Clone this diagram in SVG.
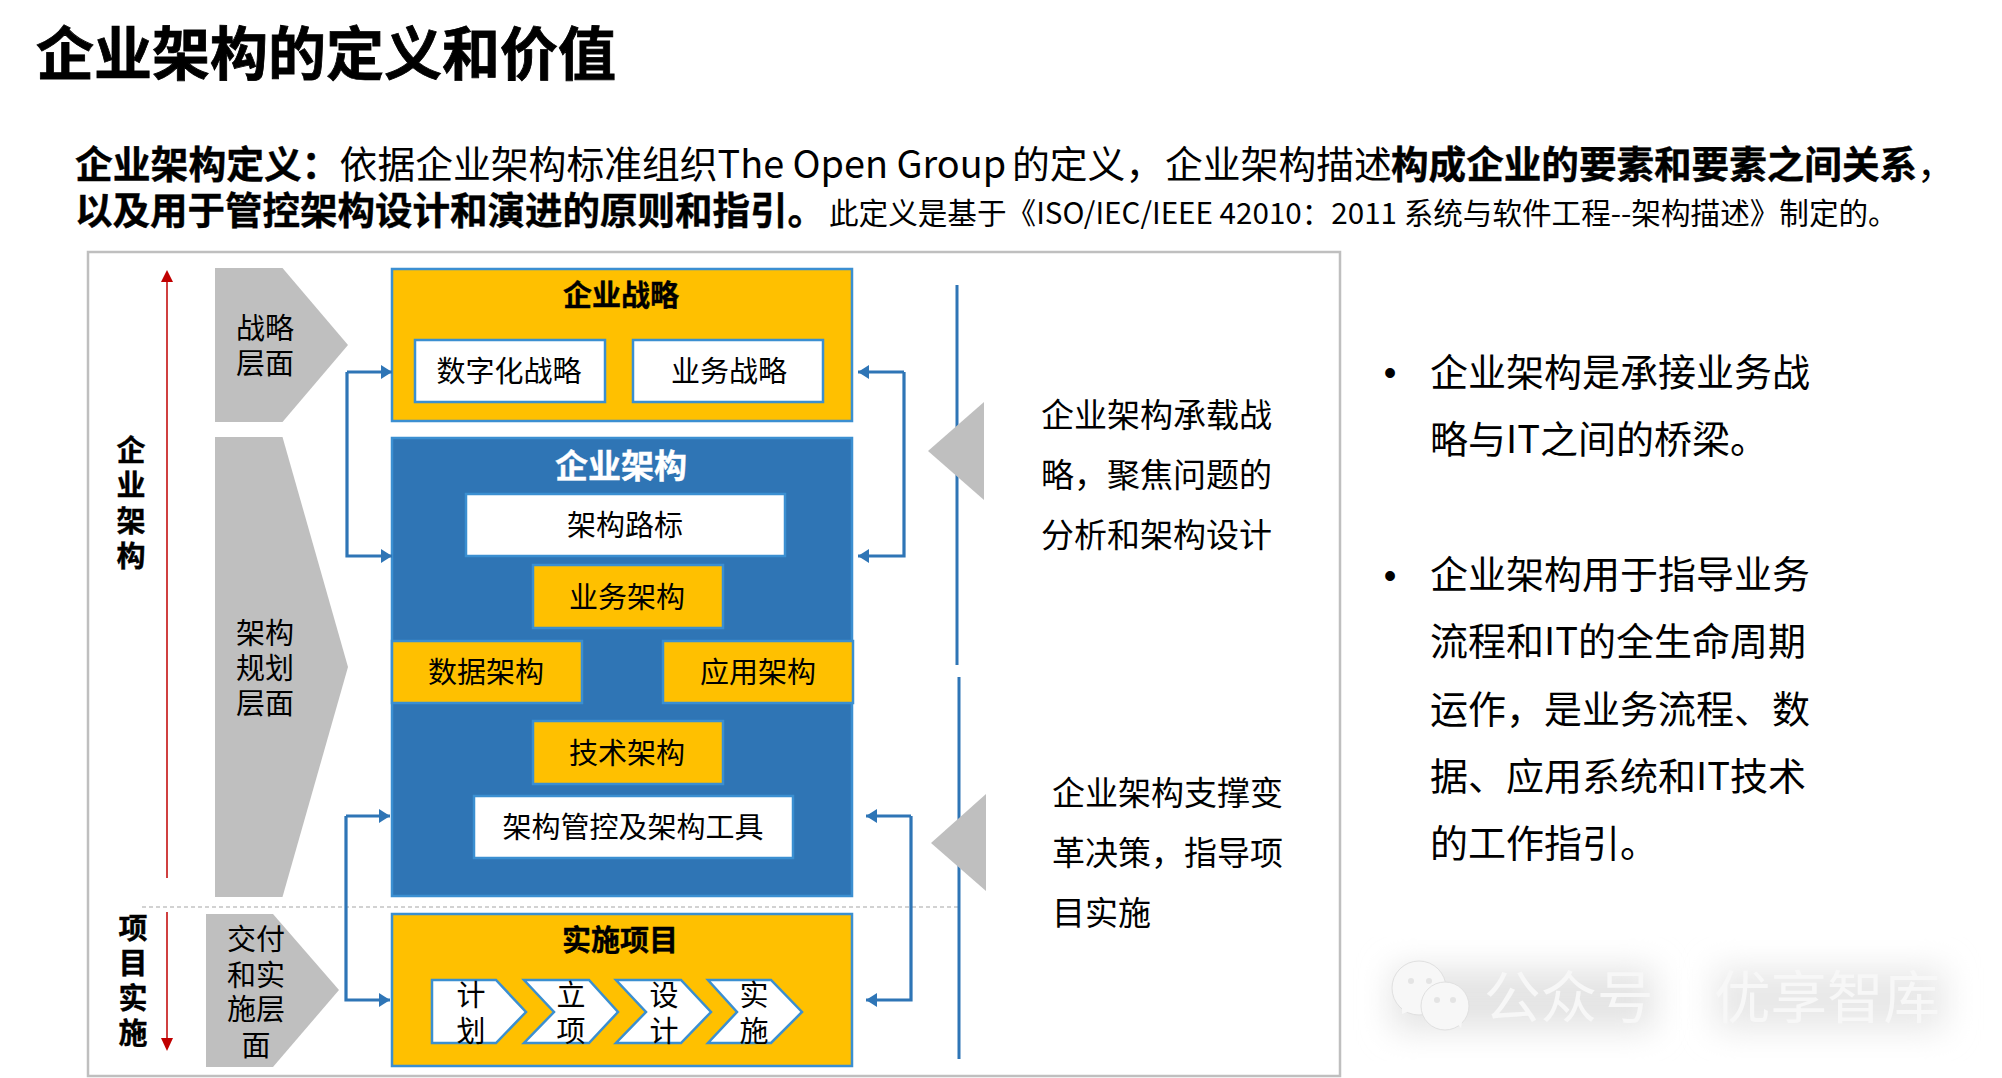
<svg xmlns="http://www.w3.org/2000/svg" width="2002" height="1078" viewBox="0 0 2002 1078">
<style>
text{font-family:"Noto Sans CJK SC","Noto Sans",sans-serif;fill:#000}
.c{text-anchor:middle;dominant-baseline:central}
.l{dominant-baseline:central}
.b{font-weight:700}
.s29{font-size:29px}
.s33{font-size:33px}
.s38{font-size:37.8px}
.gr{fill:#bfbfbf}
.or{fill:#ffc000;stroke:#3b8fd1;stroke-width:2.5}
.wh{fill:#fff;stroke:#3b8fd1;stroke-width:2.5}
.lnk{fill:none;stroke:#2e75b6;stroke-width:3.2}
.wm{fill:#f7f7f7;font-size:56.500px}
.bu{font-family:"Liberation Sans",sans-serif;font-size:36px;text-anchor:middle}
</style>
<defs>
<marker id="bh" markerUnits="userSpaceOnUse" markerWidth="12" markerHeight="14" refX="11" refY="7" orient="auto"><path d="M0 0L11 7L0 14Z" fill="#2e75b6"/></marker>
<filter id="blur" x="-20%" y="-50%" width="140%" height="200%"><feGaussianBlur stdDeviation="16"/></filter>
</defs>
<rect width="2002" height="1078" fill="#fff"/>
<g id="title">
<text x="36" y="75" class="b" font-size="58" stroke="#000" stroke-width="0.8">企业架构的定义和价值</text>
<text x="75" y="178" class="s38"><tspan class="b" stroke="#000" stroke-width="0.4">企业架构定义：</tspan>依据企业架构标准组织The Open Group<tspan x="1012">的定义，</tspan><tspan x="1165">企业架构描述</tspan><tspan x="1391" class="b" stroke="#000" stroke-width="0.4" font-size="37.600">构成企业的要素和要素之间关系</tspan>，</text>
<text x="75" y="224" class="s38"><tspan class="b" stroke="#000" stroke-width="0.4" font-size="37.500">以及用于管控架构设计和演进的原则和指引。</tspan><tspan x="829" font-size="29.600">此定义是基于《ISO/IEC/IEEE 42010：2011 系统与软件工程--架构描述》制定的。</tspan></text>
</g>
<rect id="frame" x="88" y="252" width="1252" height="824" fill="#fff" stroke="#bfbfbf" stroke-width="2.5"/>
<g id="axis">
<line x1="167" y1="280" x2="167" y2="878" stroke="#c00000" stroke-width="1.5"/>
<path d="M167 270L173 282H161Z" fill="#c00000"/>
<line x1="167" y1="912" x2="167" y2="1040" stroke="#c00000" stroke-width="1.5"/>
<path d="M167 1051L173 1038H161Z" fill="#c00000"/>
<line x1="142" y1="907" x2="960" y2="907" stroke="#a6a6a6" stroke-width="1.2" stroke-dasharray="4 3"/>
<text class="c b s29" stroke="#000" stroke-width="0.4"><tspan x="131" y="448">企</tspan><tspan x="131" y="483">业</tspan><tspan x="131" y="519">架</tspan><tspan x="131" y="554">构</tspan></text>
<text class="c b s29" stroke="#000" stroke-width="0.4"><tspan x="133" y="926">项</tspan><tspan x="133" y="961">目</tspan><tspan x="133" y="996">实</tspan><tspan x="133" y="1031">施</tspan></text>
</g>
<g id="layer-strategy"><path class="gr" d="M215 268H282.500L348 345L282.500 422H215Z"/>
<text class="c s29"><tspan x="265" y="326">战略</tspan><tspan x="265" y="361">层面</tspan></text></g>
<g id="layer-arch"><path class="gr" d="M215 437H282.500L348 667L282.500 897H215Z"/>
<text class="c s29"><tspan x="265" y="631">架构</tspan><tspan x="265" y="666">规划</tspan><tspan x="265" y="701">层面</tspan></text></g>
<g id="layer-impl"><path class="gr" d="M206 914H273L339 990L273 1067H206Z"/>
<text class="c s29"><tspan x="256" y="937">交付</tspan><tspan x="256" y="973">和实</tspan><tspan x="256" y="1007">施层</tspan><tspan x="256" y="1043">面</tspan></text></g>
<g id="ent-strategy"><rect class="or" x="392" y="269" width="460" height="152"/>
<text class="c b s29" x="621" y="293" stroke="#000" stroke-width="0.4">企业战略</text></g>
<g id="digital"><rect class="wh" x="415" y="340" width="190" height="62"/><text class="c s29" x="509" y="369">数字化战略</text></g>
<g id="biz-strategy"><rect class="wh" x="633" y="340" width="190" height="62"/><text class="c s29" x="729" y="369">业务战略</text></g>
<g id="ent-arch"><rect x="392" y="438" width="460" height="458" fill="#2f75b5" stroke="#3b8fd1" stroke-width="2.5"/>
<text class="c b s33" x="621" y="464" style="fill:#fff;stroke:#fff;stroke-width:.4">企业架构</text></g>
<g id="roadmap"><rect class="wh" x="466" y="494" width="319" height="62"/><text class="c s29" x="625" y="523">架构路标</text></g>
<g id="biz-arch"><rect class="or" x="533" y="565" width="190" height="63"/><text class="c s29" x="627" y="595">业务架构</text></g>
<g id="data-arch"><rect class="or" x="392" y="641" width="190" height="62"/><text class="c s29" x="486" y="670">数据架构</text></g>
<g id="app-arch"><rect class="or" x="663" y="641" width="190" height="62"/><text class="c s29" x="758" y="670">应用架构</text></g>
<g id="tech-arch"><rect class="or" x="533" y="721" width="190" height="63"/><text class="c s29" x="627" y="751">技术架构</text></g>
<g id="governance"><rect class="wh" x="474" y="796" width="319" height="62"/><text class="c s29" x="633" y="825">架构管控及架构工具</text></g>
<g id="project"><rect class="or" x="392" y="914" width="460" height="152"/>
<text class="c b s29" x="620" y="938" stroke="#000" stroke-width="0.4">实施项目</text></g>
<g id="step-plan"><path class="wh" d="M432 980H496L526 1012L496 1043H432Z"/><text class="c s29"><tspan x="471" y="993">计</tspan><tspan x="471" y="1029">划</tspan></text></g>
<g id="step-init"><path class="wh" d="M524 980H589L618 1012L589 1043H524L554 1012Z"/><text class="c s29"><tspan x="571" y="993">立</tspan><tspan x="571" y="1029">项</tspan></text></g>
<g id="step-design"><path class="wh" d="M616 980H681L711 1012L681 1043H616L646 1012Z"/><text class="c s29"><tspan x="664" y="993">设</tspan><tspan x="664" y="1029">计</tspan></text></g>
<g id="step-exec"><path class="wh" d="M708 980H771L802 1012L771 1043H708L737 1012Z"/><text class="c s29"><tspan x="754" y="993">实</tspan><tspan x="754" y="1029">施</tspan></text></g>
<g id="connectors">
<path class="lnk" marker-end="url(#bh)" d="M347 372H392"/>
<path class="lnk" marker-end="url(#bh)" d="M347 372V556H392"/>
<path class="lnk" marker-end="url(#bh)" d="M346 816H390"/>
<path class="lnk" marker-end="url(#bh)" d="M346 816V1000H390"/>
<path class="lnk" marker-end="url(#bh)" d="M904 372H858"/>
<path class="lnk" marker-end="url(#bh)" d="M904 372V556H858"/>
<path class="lnk" marker-end="url(#bh)" d="M911 816H866"/>
<path class="lnk" marker-end="url(#bh)" d="M911 816V1000H866"/>
</g>
<g id="note-1">
<line x1="957" y1="285" x2="957" y2="665" stroke="#2e75b6" stroke-width="3"/>
<path class="gr" d="M928 451L984 402V500Z"/>
<text class="l s33"><tspan x="1041" y="413">企业架构承载战</tspan><tspan x="1041" y="473">略，聚焦问题的</tspan><tspan x="1041" y="533">分析和架构设计</tspan></text>
</g>
<g id="note-2">
<line x1="959" y1="677" x2="959" y2="1059" stroke="#2e75b6" stroke-width="3"/>
<path class="gr" d="M931 843L986 794V891Z"/>
<text class="l s33"><tspan x="1052" y="791">企业架构支撑变</tspan><tspan x="1052" y="851">革决策，指导项</tspan><tspan x="1052" y="911">目实施</tspan></text>
</g>
<g id="bullets" style="font-size:38px">
<text class="bu" x="1390" y="385">•</text>
<text class="l"><tspan x="1430" y="368.500">企业架构是承接业务战</tspan><tspan x="1430" y="435.500">略与IT之间的桥梁。</tspan></text>
<text class="bu" x="1390" y="588">•</text>
<text class="l"><tspan x="1430" y="571">企业架构用于指导业务</tspan><tspan x="1430" y="638">流程和IT的全生命周期</tspan><tspan x="1430" y="706">运作，是业务流程、数</tspan><tspan x="1430" y="773">据、应用系统和IT技术</tspan><tspan x="1430" y="840">的工作指引。</tspan></text>
</g>
<g id="watermark">
<rect x="1392" y="968" width="262" height="62" fill="#e4e4e4" filter="url(#blur)"/>
<rect x="1715" y="968" width="230" height="62" fill="#e8e8e8" filter="url(#blur)"/>
<circle cx="1419" cy="988" r="27" fill="#f7f7f7" stroke="#e0e0e0"/>
<path d="M1402 1006L1402 1014L1412 1010Z" fill="#f7f7f7"/>
<circle cx="1445" cy="1006" r="24" fill="#f7f7f7" stroke="#e0e0e0"/>
<path d="M1456 1022L1461 1028L1463 1016Z" fill="#f7f7f7"/>
<circle cx="1411" cy="981" r="3" fill="#e4e4e4"/><circle cx="1429" cy="981" r="3" fill="#e4e4e4"/>
<circle cx="1437" cy="1000" r="3" fill="#e4e4e4"/><circle cx="1453" cy="1000" r="3" fill="#e4e4e4"/>
<text x="1484" y="993" class="wm l">公众号</text>
<text x="1714" y="993" class="wm l">优享智库</text>
</g>
</svg>
